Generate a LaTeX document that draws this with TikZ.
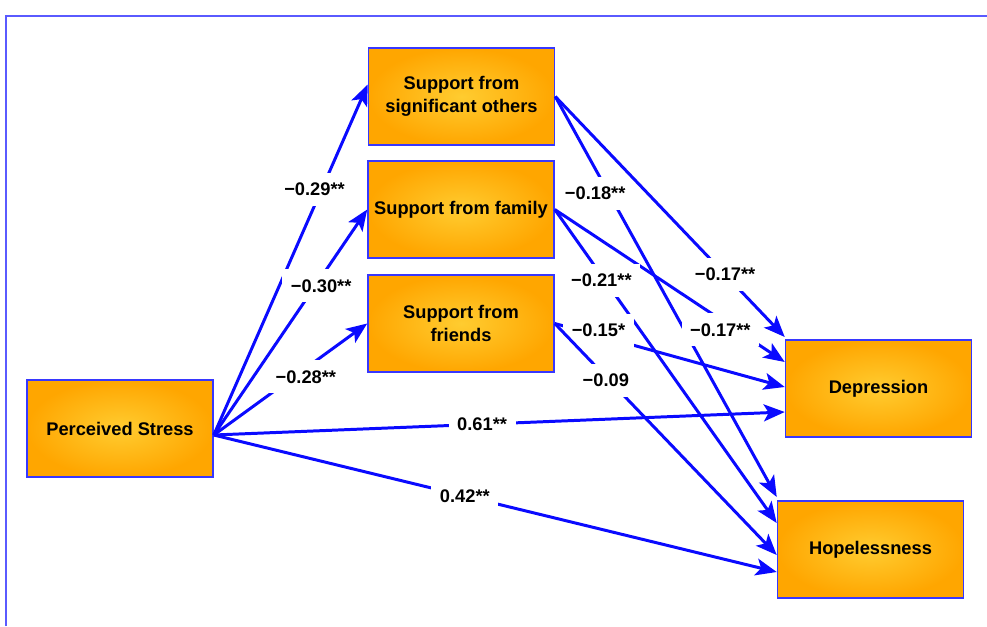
\documentclass[tikz,border=0pt]{standalone}
\usepackage{fontspec}
\setmainfont{Liberation Sans}
\usetikzlibrary{arrows.meta,calc}
\definecolor{boxblue}{RGB}{55,55,255}
\definecolor{frameblue}{RGB}{90,90,255}
\definecolor{lineblue}{RGB}{10,10,255}
\definecolor{boxin}{RGB}{255,204,48}
\definecolor{boxout}{RGB}{255,166,0}
\tikzset{
	var/.style={draw=boxblue, line width=0.9pt, inner color=boxin, outer color=boxout,
		minimum width=3.72cm, minimum height=1.94cm, align=center,
		font=\fontsize{10.4}{13}\selectfont\bfseries},
	effect/.style={lineblue, line width=1.7pt, -{Stealth[length=0.42cm,width=0.34cm,inset=0.1cm]}},
	coef/.style={fill=white, text=black, inner xsep=0.17cm, inner ysep=0.2cm,
		font=\fontsize{10.4}{12}\selectfont\bfseries}
}

\begin{document}
\begin{tikzpicture}[x=0.02cm, y=-0.02cm]
		%%%%% START %%%%%
		\useasboundingbox (0,0) rectangle (987,626);
		
		\draw[frameblue, line width=1.2pt] (6,626) -- (6,16) -- (987,16);
		
		% variables
		\node[var] (so) at (461.5,96.5) {Support from\\significant others};
		\node[var] (fam) at (461,209.5) {Support from family};
		\node[var] (fri) at (461,323.5) {Support from\\friends};
		\node[var] (ps) at (120,428.5) {Perceived Stress};
		\node[var] (dep) at (878.5,388.5) {Depression};
		\node[var] (hop) at (870.5,549.5) {Hopelessness};
		
		\coordinate (psout) at ($(ps.east)+(0,6.5)$);
		
		% stress -> support
		\draw[effect] (psout) -- ($(so.west)+(0,-12)$) node[coef, pos=0.7, xshift=-4] {−0.29**};
		\draw[effect] (psout) -- (fam.west) node[coef, pos=0.7, yshift=-5] {−0.30**};
		\draw[effect] (psout) -- (fri.west) node[coef, pos=0.6, yshift=-5] {−0.28**};
		
		% stress -> outcomes
		\draw[effect] (psout) -- ($(dep.west)+(0,23.5)$) node[coef, pos=0.47] {0.61**};
		\draw[effect] (psout) -- ($(hop.west)+(0,22.5)$) node[coef, pos=0.446] {0.42**};
		
		% support -> outcomes
		\draw[effect] (so.east) -- ($(hop.west)+(0,-52.5)$) node[coef, pos=0.22, xshift=-5, yshift=-5] {−0.18**};
		\draw[effect] (so.east) -- ($(dep.west)+(0,-51.5)$) node[coef, pos=0.74] {−0.17**};
		\draw[effect] (fam.east) -- ($(dep.west)+(0,-26.5)$) node[coef, pos=0.72, yshift=-6] {−0.17**};
		\draw[effect] (fam.east) -- ($(hop.west)+(0,-26.5)$) node[coef, pos=0.21, yshift=-3] {−0.21**};
		\draw[effect] (fri.east) -- ($(dep.west)+(0,-1.5)$) node[coef, pos=0.19, yshift=3] {−0.15*};
		\draw[effect] (fri.east) -- ($(hop.west)+(0,5.5)$) node[coef, pos=0.23, yshift=-2] {−0.09};
		
		%%%%% END %%%%%
	\end{tikzpicture}
\end{document}
